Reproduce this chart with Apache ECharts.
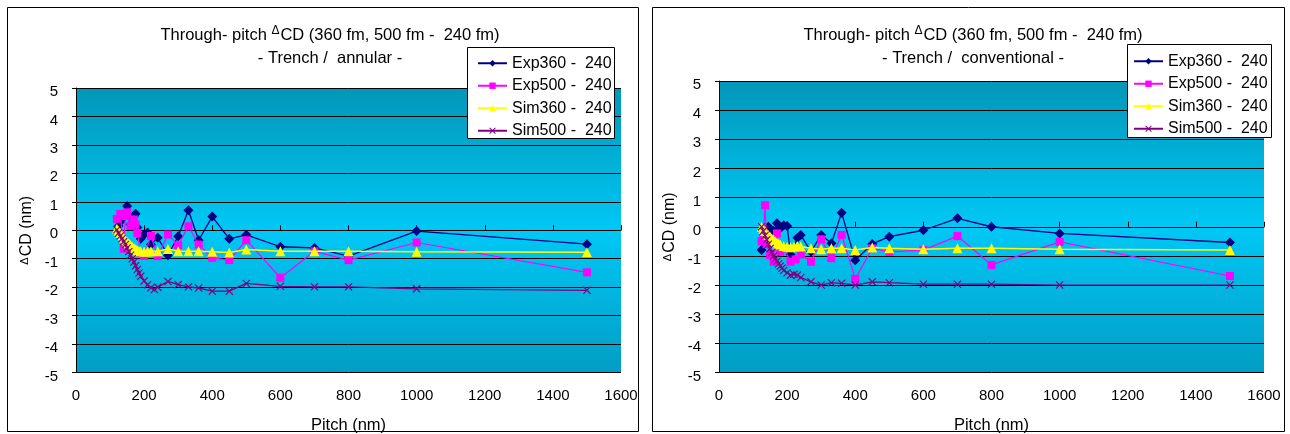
<!DOCTYPE html>
<html>
<head>
<meta charset="utf-8">
<script src="https://cdn.jsdelivr.net/npm/echarts@6/dist/echarts.min.js"></script>
<style>
  html, body { margin: 0; padding: 0; background: #fff; }
  #chart { width: 1290px; height: 434px; }
</style>
</head>
<body>
<div id="chart"></div>
<script>
// pitch (nm), delta CD (nm) -- annular
const annExp360 = [[125,0.15],[130,0.3],[140,0.45],[150,0.85],[160,0.2],[170,0.5],[175,0.58],[180,0.1],[190,-0.3],[200,-0.15],[210,-0.08],[220,-0.5],[240,-0.26],[270,-0.88],[300,-0.21],[330,0.7],[360,-0.35],[400,0.48],[450,-0.3],[500,-0.16],[600,-0.58],[700,-0.62],[800,-0.91],[1000,-0.03],[1500,-0.49]];
const annExp500 = [[120,0.4],[130,0.58],[140,-0.65],[145,0.5],[150,0.63],[160,0.15],[170,0.38],[175,0.2],[180,-0.1],[190,-0.8],[200,-0.9],[220,-0.2],[240,-0.91],[270,-0.15],[300,-0.53],[330,0.14],[360,-0.5],[400,-0.97],[450,-1.05],[500,-0.35],[600,-1.67],[700,-0.74],[800,-1.05],[1000,-0.43],[1500,-1.48]];
const annSim360 = [[120,0.05],[125,-0.02],[130,-0.1],[135,-0.18],[140,-0.26],[145,-0.33],[150,-0.4],[155,-0.46],[160,-0.52],[165,-0.57],[170,-0.62],[175,-0.66],[180,-0.7],[185,-0.72],[190,-0.74],[200,-0.76],[210,-0.75],[220,-0.74],[240,-0.74],[270,-0.66],[300,-0.74],[330,-0.74],[360,-0.74],[400,-0.76],[450,-0.78],[500,-0.68],[600,-0.74],[700,-0.74],[800,-0.74],[1000,-0.76],[1500,-0.77]];
const annSim500 = [[120,0.02],[125,-0.1],[130,-0.2],[135,-0.3],[140,-0.4],[145,-0.5],[150,-0.62],[155,-0.75],[160,-0.88],[165,-1.0],[170,-1.12],[175,-1.25],[180,-1.38],[185,-1.5],[190,-1.62],[200,-1.78],[210,-1.92],[220,-2.02],[230,-2.08],[240,-2.0],[270,-1.8],[300,-1.91],[330,-1.99],[360,-2.03],[400,-2.14],[450,-2.14],[500,-1.87],[600,-1.97],[700,-1.99],[800,-1.99],[1000,-2.06],[1500,-2.11]];

// conventional
const conExp360 = [[125,-0.8],[130,-0.45],[140,-0.1],[145,0.0],[160,-0.15],[170,0.12],[180,-0.05],[190,0.05],[200,0.03],[210,-0.95],[230,-0.38],[240,-0.28],[270,-0.86],[300,-0.28],[330,-0.57],[360,0.48],[400,-1.15],[450,-0.59],[500,-0.34],[600,-0.12],[700,0.29],[800,0.0],[1000,-0.23],[1500,-0.54]];
const conExp500 = [[125,-0.5],[130,-0.3],[135,0.74],[140,-0.6],[150,-0.97],[160,-1.2],[170,-0.23],[180,-0.86],[190,-0.7],[210,-1.2],[225,-1.12],[240,-0.95],[270,-1.2],[300,-0.43],[330,-1.08],[360,-0.28],[400,-1.79],[450,-0.74],[500,-0.86],[600,-0.8],[700,-0.32],[800,-1.31],[1000,-0.52],[1500,-1.69]];
const conSim360 = [[125,0.0],[130,-0.08],[135,-0.15],[140,-0.22],[145,-0.28],[150,-0.34],[155,-0.4],[160,-0.45],[165,-0.5],[170,-0.54],[175,-0.58],[180,-0.61],[190,-0.66],[200,-0.69],[210,-0.7],[220,-0.68],[230,-0.66],[240,-0.68],[270,-0.74],[300,-0.77],[330,-0.74],[360,-0.74],[400,-0.8],[450,-0.71],[500,-0.74],[600,-0.77],[700,-0.74],[800,-0.74],[1000,-0.77],[1500,-0.8]];
const conSim500 = [[125,0.0],[130,-0.15],[135,-0.3],[140,-0.45],[145,-0.6],[150,-0.75],[155,-0.88],[160,-1.0],[165,-1.1],[170,-1.18],[175,-1.27],[180,-1.35],[185,-1.42],[190,-1.5],[200,-1.58],[210,-1.66],[220,-1.63],[230,-1.66],[240,-1.74],[270,-1.89],[300,-2.0],[330,-1.92],[360,-1.94],[400,-2.0],[450,-1.89],[500,-1.92],[600,-1.97],[700,-1.97],[800,-1.97],[1000,-2.0],[1500,-2.0]];

const seriesNames = ["Exp360 -  240", "Exp500 -  240", "Sim360 -  240", "Sim500 -  240"];
const subTitles = ["- Trench /  annular -", "- Trench /  conventional -"];

const FONT = "Liberation Sans, Arial, sans-serif";
const crossPath = "path://M0,1L1,0L5,4L9,0L10,1L6,5L10,9L9,10L5,6L1,10L0,9L4,5Z";
const styles = [
  { color: "#000080", symbol: "diamond", size: 10, width: 1.3 },
  { color: "#ff00ff", symbol: "rect", size: 8, width: 1.2 },
  { color: "#ffff00", symbol: "triangle", size: 10, width: 1.5 },
  { color: "#800080", symbol: crossPath, size: 8, width: 1.3 },
];

function plotBg() {
  return new echarts.graphic.LinearGradient(0, 0, 0, 1, [
    { offset: 0, color: "#0297b8" },
    { offset: 0.5, color: "#00c8f6" },
    { offset: 1, color: "#029dc4" },
  ]);
}

// panel geometry (px)
const panels = [
  { grid: { left: 76, top: 88, width: 545, height: 284.5 }, titleX: 325, legendX: 477, legendY: 52, box: [467.5, 47.5, 147, 91], frame: [7.5, 7.5, 631, 424] },
  { grid: { left: 719, top: 81, width: 545, height: 291.5 }, titleX: 968, legendX: 1133, legendY: 50, box: [1127.5, 44.5, 144, 93], frame: [652.5, 7.5, 632, 424] },
];
const panelData = [
  [annExp360, annExp500, annSim360, annSim500],
  [conExp360, conExp500, conSim360, conSim500],
];

const option = {
  animation: false,
  textStyle: { fontFamily: FONT },
  title: [],
  legend: [],
  grid: [],
  xAxis: [],
  yAxis: [],
  series: [],
  graphic: [],
};

panels.forEach((p, i) => {
  option.title.push({
    left: p.titleX,
    top: 16,
    textAlign: "center",
    text: "{a|Through- pitch }{d|Δ}{a|CD (360 fm, 500 fm -  240 fm)}\n{a|" + subTitles[i] + "}",
    textStyle: {
      fontWeight: "normal",
      rich: {
        a: { fontSize: 16.5, color: "#000", fontFamily: FONT, fontWeight: "normal", lineHeight: 23, verticalAlign: "bottom" },
        d: { fontSize: 12, color: "#000", fontFamily: FONT, fontWeight: "normal", lineHeight: 23, verticalAlign: "bottom", padding: [0, 1, 7, 0] },
      },
    },
  });
  option.grid.push(Object.assign({ show: true, borderWidth: 0, outerBoundsMode: "none", backgroundColor: plotBg() }, p.grid));
  option.xAxis.push({
    type: "value",
    gridIndex: i,
    min: 0,
    max: 1600,
    interval: 200,
    name: "Pitch (nm)",
    nameLocation: "middle",
    nameGap: 44,
    nameTextStyle: { fontSize: 16.5, color: "#000", fontFamily: FONT },
    axisLine: { lineStyle: { color: "#000", width: 1 } },
    axisTick: { inside: true, length: 5, lineStyle: { color: "#000" } },
    axisLabel: { margin: 16, fontSize: 15, color: "#000", fontFamily: FONT, formatter: (v) => String(v) },
    splitLine: { show: false },
  });
  option.yAxis.push({
    type: "value",
    gridIndex: i,
    min: -5,
    max: 5,
    interval: 1,
    name: "{d|Δ}CD (nm)",
    nameLocation: "middle",
    nameGap: 41,
    nameTextStyle: {
      fontSize: 16, color: "#000", fontFamily: FONT,
      rich: { d: { fontSize: 11, color: "#000", fontFamily: FONT, padding: [0, 1, 5, 0] } },
    },
    axisLine: { show: true, lineStyle: { color: "#000", width: 1 } },
    axisTick: { show: true, length: 4, lineStyle: { color: "#000" } },
    axisLabel: {
      margin: 18, color: "#000",
      formatter: (v) => "{v|" + v + "}",
      rich: { v: { fontSize: 15, color: "#000", fontFamily: FONT, padding: [8, 0, 0, 0] } },
    },
    splitLine: { show: true, lineStyle: { color: "#000", width: 1 } },
  });
  panelData[i].forEach((d, k) => {
    const s = styles[k];
    option.series.push({
      name: seriesNames[k],
      type: "line",
      xAxisIndex: i,
      yAxisIndex: i,
      data: d,
      symbol: s.symbol,
      symbolSize: s.size,
      showAllSymbol: true,
      lineStyle: { color: s.color, width: s.width },
      itemStyle: { color: s.color },
      z: 3 + k,
    });
  });
  option.legend.push({
    orient: "vertical",
    left: p.legendX,
    top: p.legendY,
    padding: 0,
    itemGap: 0,
    itemWidth: 29,
    itemHeight: 8,
    z: 20,
    data: seriesNames,
    textStyle: { fontSize: 16, color: "#000", fontFamily: FONT, lineHeight: 22.5 },
  });
  option.graphic.push({
    type: "rect",
    z: 15,
    shape: { x: p.box[0], y: p.box[1], width: p.box[2], height: p.box[3] },
    style: { fill: "#fff", stroke: "#000", lineWidth: 1 },
  });
  option.graphic.push({
    type: "rect",
    z: 1,
    shape: { x: p.frame[0], y: p.frame[1], width: p.frame[2], height: p.frame[3] },
    style: { fill: null, stroke: "#000", lineWidth: 1 },
  });
});

const chart = echarts.init(document.getElementById("chart"));
chart.setOption(option);
</script>
</body>
</html>
